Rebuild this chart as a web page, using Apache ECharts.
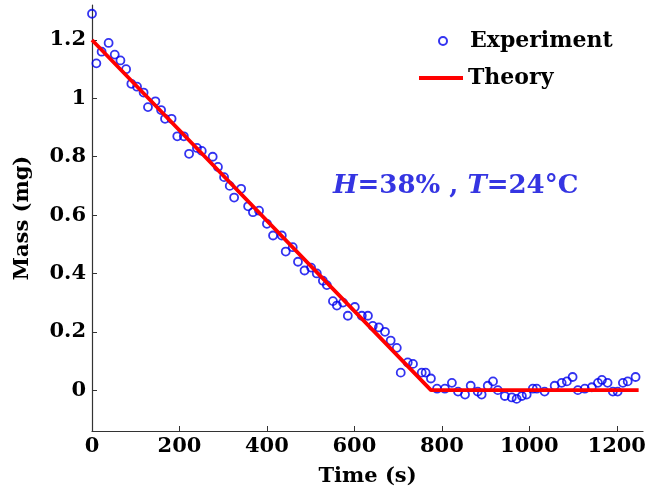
<!DOCTYPE html>
<html>
<head>
<meta charset="utf-8">
<script src="https://cdn.jsdelivr.net/npm/echarts@6/dist/echarts.min.js"></script>
<style>
html,body{margin:0;padding:0;background:#fff;}
#chart{width:649px;height:492px;}
</style>
</head>
<body>
<div id="chart"></div>
<script>
// Experiment data (time in s, mass in mg)
var expTime = [0,10,22,38,52,65,78,90,103,118,128,145,158,167,182,195,210,222,240,251,276,288,302,315,325,341,357,368,382,400,414,434,443,459,471,486,501,514,528,537,551,560,574,585,601,617,631,642,656,670,683,697,706,722,734,754,763,775,789,807,823,837,853,866,882,891,905,917,928,944,960,971,983,994,1008,1017,1035,1058,1074,1086,1099,1111,1127,1143,1157,1166,1179,1191,1202,1214,1225,1243];
var expMass = [1.29,1.12,1.16,1.19,1.15,1.13,1.10,1.05,1.04,1.02,0.97,0.99,0.96,0.93,0.93,0.87,0.87,0.81,0.83,0.82,0.80,0.765,0.73,0.70,0.66,0.69,0.63,0.61,0.615,0.57,0.53,0.53,0.475,0.49,0.44,0.41,0.42,0.40,0.375,0.36,0.305,0.29,0.30,0.255,0.285,0.255,0.255,0.22,0.215,0.20,0.17,0.145,0.06,0.095,0.09,0.06,0.06,0.04,0.005,0.005,0.025,-0.005,-0.015,0.015,-0.005,-0.015,0.015,0.03,0,-0.02,-0.025,-0.03,-0.02,-0.015,0.005,0.005,-0.005,0.015,0.025,0.03,0.045,0,0.005,0.01,0.025,0.035,0.025,-0.005,-0.005,0.025,0.03,0.045];
// Theory line
var theoryTime = [0,775,1250];
var theoryMass = [1.2,0,0];
// Tick labels
var xTicks = [0,200,400,600,800,1000,1200];
var yTicks = [0,0.2,0.4,0.6,0.8,1,1.2];

var expData = expTime.map(function(t,i){return [t, expMass[i]];});
var theoryData = theoryTime.map(function(t,i){return [t, theoryMass[i]];});

var FONT = 'DejaVu Serif';
var chart = echarts.init(document.getElementById('chart'));
chart.setOption({
  animation:false,
  backgroundColor:'#fff',
  grid:{left:92,right:6,top:5,bottom:61,containLabel:false},
  legend:[{
    data:[{name:'Experiment',icon:'circle'}],
    orient:'vertical', left:433, top:25,
    itemWidth:44, itemHeight:8, itemGap:10,
    textStyle:{fontFamily:FONT,fontWeight:'bold',fontSize:22,color:'#000'}
  },{
    data:[{name:'Theory',icon:'rect'}],
    orient:'vertical', left:414, top:62,
    itemWidth:44, itemHeight:4, itemGap:10,
    textStyle:{fontFamily:FONT,fontWeight:'bold',fontSize:22,color:'#000'}
  }],
  xAxis:{
    type:'value', min:0, max:1260,
    name:'Time (s)', nameLocation:'middle', nameGap:35,
    nameTextStyle:{fontFamily:FONT,fontWeight:'bold',fontSize:21,color:'#000'},
    axisLine:{onZero:false,lineStyle:{color:'#333',width:1.2}},
    axisTick:{inside:true,length:5,customValues:xTicks,lineStyle:{color:'#333'}},
    axisLabel:{customValues:xTicks,formatter:function(v){return String(v);},fontFamily:FONT,fontWeight:'bold',fontSize:21,color:'#000',margin:5},
    splitLine:{show:false}
  },
  yAxis:{
    type:'value', min:-0.14, max:1.32,
    name:'Mass (mg)', nameLocation:'middle', nameGap:59,
    nameTextStyle:{fontFamily:FONT,fontWeight:'bold',fontSize:21,color:'#000'},
    axisLine:{onZero:false,lineStyle:{color:'#333',width:1.2}},
    axisTick:{inside:true,length:5,customValues:yTicks,lineStyle:{color:'#333'}},
    axisLabel:{customValues:yTicks,fontFamily:FONT,fontWeight:'bold',fontSize:21,color:'#000',margin:6},
    splitLine:{show:false}
  },
  graphic:[{
    type:'text', left:333, top:173,
    style:{
      text:'{i|H}{n|=38% , }{i|T}{n|=24°C}',
      rich:{
        i:{fontFamily:FONT,fontWeight:'bold',fontStyle:'italic',fontSize:26,fill:'#3535e2'},
        n:{fontFamily:FONT,fontWeight:'bold',fontSize:26,fill:'#3535e2'}
      }
    }
  }],
  series:[{
    name:'Experiment', type:'scatter', data:expData,
    symbol:'circle', symbolSize:8,
    itemStyle:{color:'rgba(0,0,0,0)',borderColor:'#0000ee',borderWidth:1.8},
    z:2
  },{
    name:'Theory', type:'line', data:theoryData,
    symbol:'none',
    lineStyle:{color:'#ff0000',width:3.8},
    itemStyle:{color:'#ff0000'},
    z:3
  }]
});
</script>
</body>
</html>
